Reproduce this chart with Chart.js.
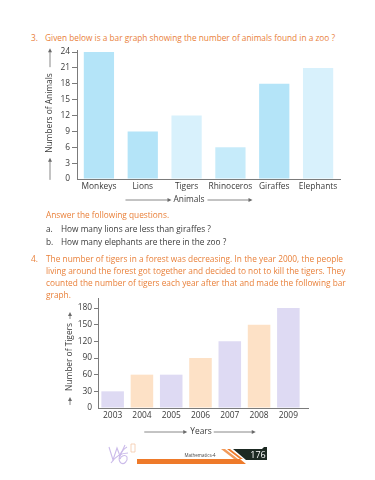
<!DOCTYPE html>
<html>
<head>
<meta charset="utf-8">
<script src="https://cdn.jsdelivr.net/npm/chart.js@4.4.1/dist/chart.umd.min.js"></script>
<style>
    body { margin: 0; width: 375px; height: 480px; background: #fff; position: relative; overflow: hidden;
           font-family: "Open Sans", sans-serif; font-size: 8.3px; }
    .t { position: absolute; line-height: 12px; white-space: nowrap; }
    .or { color: #e9803a; }
    .dk { color: #3a3a3a; }
    .para { position: absolute; left: 46px; width: 297px; line-height: 12px; color: #e9803a; }
    .para div { text-align: justify; text-align-last: justify; white-space: nowrap; }
    .para div.last { text-align-last: left; }
    canvas { position: absolute; left: 0; }
</style>
</head>
<body>
<div class="t or" style="left:31px;top:32px">3.</div>
<div class="t or" style="left:45px;top:32px">Given below is a bar graph showing the number of animals found in a zoo ?</div>

<canvas id="zooChart" width="375" height="170" style="top:40px"></canvas>

<div class="t or" style="left:46px;top:209px">Answer the following questions.</div>
<div class="t dk" style="left:46px;top:223px">a.</div>
<div class="t dk" style="left:61px;top:223px">How many lions are less than giraffes ?</div>
<div class="t dk" style="left:46px;top:236px">b.</div>
<div class="t dk" style="left:61px;top:236px">How many elephants are there in the zoo ?</div>

<div class="t or" style="left:31px;top:253px">4.</div>
<div class="para" style="top:253px">
    <div>The number of tigers in a forest was decreasing. In the year 2000, the people</div>
    <div>living around the forest got together and decided to not to kill the tigers. They</div>
    <div>counted the number of tigers each year after that and made the following bar</div>
    <div class="last">graph.</div>
</div>

<canvas id="tigerChart" width="375" height="150" style="top:290px"></canvas>

<svg width="375" height="50" style="position:absolute;left:0;top:430px" xmlns="http://www.w3.org/2000/svg">
    <!-- logo -->
    <g fill="none" stroke="#cbbbea" stroke-width="1.1">
        <path d="M109 17 L113 30 L117 18 L120 26 L125 15"/>
        <path d="M127 17 C120 21 117 30 121 33 C124 35 128 31 127 27 C125 24 121 26 120 29"/>
        <path d="M111 33 C115 27 121 23 128 23"/>
    </g>
    <path d="M131 14 L135 14 L135 22 L131 22 Z" fill="none" stroke="#f4c8a8" stroke-width="0.8"/>
    <!-- footer bar -->
    <polygon points="137,29 240,29 246,34 137,34" fill="#ee7a2a"/>
    <polygon points="221,19 225,19 238,29 234,29" fill="#f29a5a"/>
    <polygon points="227,19 230,19 243,29 240,29" fill="#ee7a2a"/>
    <polygon points="233,19 262,19 264,17 267,17 267,30 246,30" fill="#1d2a23"/>
    <text x="200" y="27" font-size="4.5" fill="#444" text-anchor="middle" font-family="Open Sans">Mathematics-4</text>
    <text x="258" y="28" font-size="9" fill="#fff" text-anchor="middle" font-family="Open Sans">176</text>
</svg>

<script>
// zoo chart data
var animals = ['Monkeys', 'Lions', 'Tigers', 'Rhinoceros', 'Giraffes', 'Elephants'];
var animalCounts = [24, 9, 12, 6, 18, 21];
var animalTicks = [0, 3, 6, 9, 12, 15, 18, 21, 24];

// tiger chart data
var years = ['2003', '2004', '2005', '2006', '2007', '2008', '2009'];
var tigerCounts = [30, 60, 60, 90, 120, 150, 180];
var tigerTicks = [0, 30, 60, 90, 120, 150, 180];

var axisGrey = '#7b7b7b';
var tickFont = { family: 'Open Sans', size: 8.4 };

// draws the axis titles with their arrows (positions relative to canvas)
// before / after = [gap from text, line length]
var axisTitles = {
    id: 'axisTitles',
    afterDraw: function (chart, args, opts) {
        var ctx = chart.ctx;
        (opts.items || []).forEach(function (it) {
            ctx.save();
            ctx.translate(it.x, it.y);
            if (it.vertical) ctx.rotate(-Math.PI / 2);
            ctx.font = '8.4px "Open Sans"';
            ctx.fillStyle = '#3a3a3a';
            ctx.textAlign = 'center';
            ctx.textBaseline = 'middle';
            ctx.fillText(it.text, 0, 0);
            var half = ctx.measureText(it.text).width / 2;
            var segs = [
                [-(half + it.before[0] + it.before[1]), -(half + it.before[0])],
                [half + it.after[0], half + it.after[0] + it.after[1]]
            ];
            ctx.strokeStyle = '#6a6a6a';
            ctx.fillStyle = '#6a6a6a';
            ctx.lineWidth = 0.8;
            segs.forEach(function (s) {
                ctx.beginPath();
                ctx.moveTo(s[0], 0);
                ctx.lineTo(s[1] - 2, 0);
                ctx.stroke();
                ctx.beginPath();
                ctx.moveTo(s[1], 0);
                ctx.lineTo(s[1] - 4, -2);
                ctx.lineTo(s[1] - 4, 2);
                ctx.closePath();
                ctx.fill();
            });
            ctx.restore();
        });
        // extend x axis a bit past the last bar
        if (opts.extendX) {
            var a = chart.chartArea;
            ctx.save();
            ctx.strokeStyle = axisGrey;
            ctx.lineWidth = 1;
            ctx.beginPath();
            ctx.moveTo(a.right, a.bottom + 0.5);
            ctx.lineTo(a.right + opts.extendX, a.bottom + 0.5);
            ctx.stroke();
            ctx.restore();
        }
    }
};

function keepTicks(list) {
    return function (scale) {
        scale.ticks = list.map(function (v) { return { value: v }; });
    };
}

function yScale(max, ticks, width, tickLen) {
    return {
        min: 0,
        max: max,
        afterBuildTicks: keepTicks(ticks),
        afterFit: function (scale) { scale.width = width; },
        border: { color: axisGrey, width: 1 },
        grid: {
            drawOnChartArea: false,
            tickLength: tickLen,
            tickColor: function (c) { return c.tick && c.tick.value === 0 ? 'rgba(0,0,0,0)' : axisGrey; }
        },
        ticks: { color: '#3a3a3a', font: tickFont, padding: 2 }
    };
}

function xScale(height) {
    return {
        afterFit: function (scale) { scale.height = height; },
        border: { color: axisGrey, width: 1 },
        grid: { display: false, drawTicks: false },
        ticks: { color: '#3a3a3a', font: tickFont, padding: 3, maxRotation: 0, autoSkip: false }
    };
}

new Chart(document.getElementById('zooChart').getContext('2d'), {
    type: 'bar',
    data: {
        labels: animals,
        datasets: [{
            data: animalCounts,
            backgroundColor: ['#b4e4f8', '#b4e4f8', '#d8f1fc', '#c6ebfa', '#b4e4f8', '#d8f1fc'],
            barPercentage: 0.69,
            categoryPercentage: 1
        }]
    },
    options: {
        responsive: false,
        animation: false,
        layout: { padding: { left: 0, right: 35, top: 10, bottom: 0 } },
        scales: {
            x: xScale(31),
            y: yScale(24.4, animalTicks, 77, 5)
        },
        plugins: {
            legend: { display: false },
            tooltip: { enabled: false },
            axisTitles: {
                items: [
                    { text: 'Numbers of Animals', x: 50, y: 73, vertical: true, before: [5, 22], after: [6, 19] },
                    { text: 'Animals', x: 189, y: 160, before: [2, 46], after: [3, 45] }
                ]
            }
        }
    },
    plugins: [axisTitles]
});

new Chart(document.getElementById('tigerChart').getContext('2d'), {
    type: 'bar',
    data: {
        labels: years,
        datasets: [{
            data: tigerCounts,
            backgroundColor: ['#dedaf3', '#fde1c6', '#dedaf3', '#fde1c6', '#dedaf3', '#fde1c6', '#dedaf3'],
            barPercentage: 0.77,
            categoryPercentage: 1
        }]
    },
    options: {
        responsive: false,
        animation: false,
        layout: { padding: { left: 0, right: 72, top: 8, bottom: 0 } },
        scales: {
            x: xScale(32),
            y: yScale(198, tigerTicks, 98, 4)
        },
        plugins: {
            legend: { display: false },
            tooltip: { enabled: false },
            axisTitles: {
                extendX: 6,
                items: [
                    { text: 'Number of Tigers', x: 70, y: 67, vertical: true, before: [6, 8], after: [4, 7] },
                    { text: 'Years', x: 201, y: 142, before: [3, 43], after: [2, 42] }
                ]
            }
        }
    },
    plugins: [axisTitles]
});
</script>
</body>
</html>
